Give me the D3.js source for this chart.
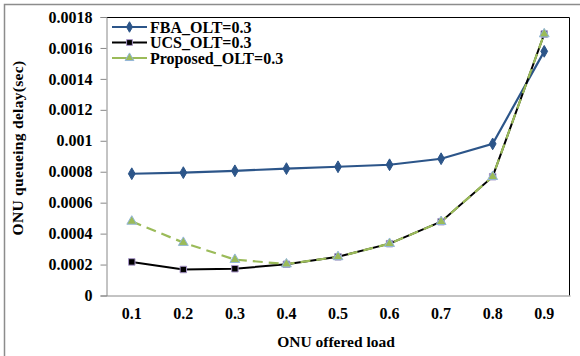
<!DOCTYPE html>
<html>
<head>
<meta charset="utf-8">
<script src="https://cdn.jsdelivr.net/npm/d3@7"></script>
<style>
  body { margin: 0; background: #fff; }
  svg { display: block; }
  text { font-family: "Liberation Serif", "Times New Roman", serif; font-weight: bold; fill: #000; }
</style>
</head>
<body>
<div id="chart"></div>
<script>
const loads = ["0.1", "0.2", "0.3", "0.4", "0.5", "0.6", "0.7", "0.8", "0.9"]
const fba = [0.000787, 0.000794, 0.000806, 0.00082, 0.000832, 0.000845, 0.000884, 0.00098, 0.001578]
const ucs = [0.000217, 0.000168, 0.000173, 0.000202, 0.00025, 0.000335, 0.000477, 0.000768, 0.00169]
const proposed = [0.000479, 0.000342, 0.000232, 0.000203, 0.00025, 0.000335, 0.000477, 0.000768, 0.00169]
const yTicks = [0, 0.0002, 0.0004, 0.0006, 0.0008, 0.001, 0.0012, 0.0014, 0.0016, 0.0018]

const width = 580, height = 356
const margin = { top: 17, right: 10, bottom: 60, left: 106 }

const svg = d3.select("#chart").append("svg")
    .attr("width", width)
    .attr("height", height)

// outer frame (left and top edges only show)
svg.append("path")
    .attr("d", `M4.5 ${height} L4.5 4.5 L${width} 4.5`)
    .attr("fill", "none")
    .attr("stroke", "#8c8c8c")
    .attr("stroke-width", 1.5)

const x = d3.scaleBand()
    .domain(loads)
    .range([margin.left, width - margin.right])

const y = d3.scaleLinear()
    .domain([0, 0.0018])
    .range([height - margin.bottom - 0.5, margin.top])

const px = d => x(d) + x.bandwidth() / 2

// plot border: top and right black
svg.append("path")
    .attr("d", `M${margin.left} ${margin.top + 0.5} L${width - margin.right - 0.5} ${margin.top + 0.5} L${width - margin.right - 0.5} ${y(0)}`)
    .attr("fill", "none")
    .attr("stroke", "#000")
    .attr("stroke-width", 1)

// y axis
const yAxis = svg.append("g")
    .attr("transform", `translate(${margin.left + 0.5},0)`)
    .call(d3.axisLeft(y).tickValues(yTicks).tickSize(6).tickPadding(8)
        .tickFormat(d => d === 0 ? "0" : String(+d.toFixed(4))))
yAxis.select(".domain").attr("stroke", "#888")
yAxis.selectAll(".tick line").attr("stroke", "#888")
yAxis.selectAll("text").style("font-size", "16px")

// x axis
const xAxis = svg.append("g")
    .attr("transform", `translate(0,${y(0)})`)
    .call(d3.axisBottom(x).tickSize(0).tickPadding(12.5))
xAxis.select(".domain").attr("stroke", "#888")
xAxis.selectAll("text").style("font-size", "16px")

// axis titles
svg.append("text")
    .attr("x", 336)
    .attr("y", 347)
    .attr("text-anchor", "middle")
    .style("font-size", "15.5px")
    .text("ONU offered load")

svg.append("text")
    .attr("transform", "translate(23,148) rotate(-90)")
    .attr("text-anchor", "middle")
    .style("font-size", "15.5px")
    .style("letter-spacing", "0.3px")
    .text("ONU queueing delay(sec)")

const line = d3.line()
    .x((d, i) => px(loads[i]))
    .y(d => y(d))

const series = [
    { name: "FBA_OLT=0.3", values: fba, color: "#2c5589", dash: null, width: 2.2, marker: d3.symbolDiamond, size: 40, fill: "#2c5589", stroke: "#2c5589" },
    { name: "UCS_OLT=0.3", values: ucs, color: "#000", dash: null, width: 2, marker: d3.symbolSquare, size: 42, fill: "#000", stroke: "#a896c8" },
    { name: "Proposed_OLT=0.3", values: proposed, color: "#9bbb59", dash: "10,6", width: 2.2, marker: d3.symbolTriangle, size: 42, fill: "#9bbb59", stroke: "#93b6d8" }
]

series.forEach(s => {
    svg.append("path")
        .datum(s.values)
        .attr("d", line)
        .attr("fill", "none")
        .attr("stroke", s.color)
        .attr("stroke-width", s.width)
        .attr("stroke-dasharray", s.dash)
})

series.forEach(s => {
    svg.append("g").selectAll("path")
        .data(s.values)
        .join("path")
        .attr("transform", (d, i) => `translate(${px(loads[i])},${y(d)})`)
        .attr("d", d3.symbol(s.marker, s.size))
        .attr("fill", s.fill)
        .attr("stroke", s.stroke)
        .attr("stroke-width", 1)
})

// legend
const legend = svg.append("g").attr("transform", "translate(112,27)")
series.forEach((s, i) => {
    const g = legend.append("g").attr("transform", `translate(0,${i * 15.5})`)
    g.append("line")
        .attr("x1", 0).attr("x2", 35)
        .attr("stroke", s.color)
        .attr("stroke-width", 2)
    g.append("path")
        .attr("transform", "translate(17.5,0)")
        .attr("d", d3.symbol(s.marker, s.size * 0.8))
        .attr("fill", s.fill)
        .attr("stroke", s.stroke)
    g.append("text")
        .attr("x", 38)
        .attr("dy", "0.35em")
        .style("font-size", "16px")
        .text(s.name)
})
</script>
</body>
</html>
